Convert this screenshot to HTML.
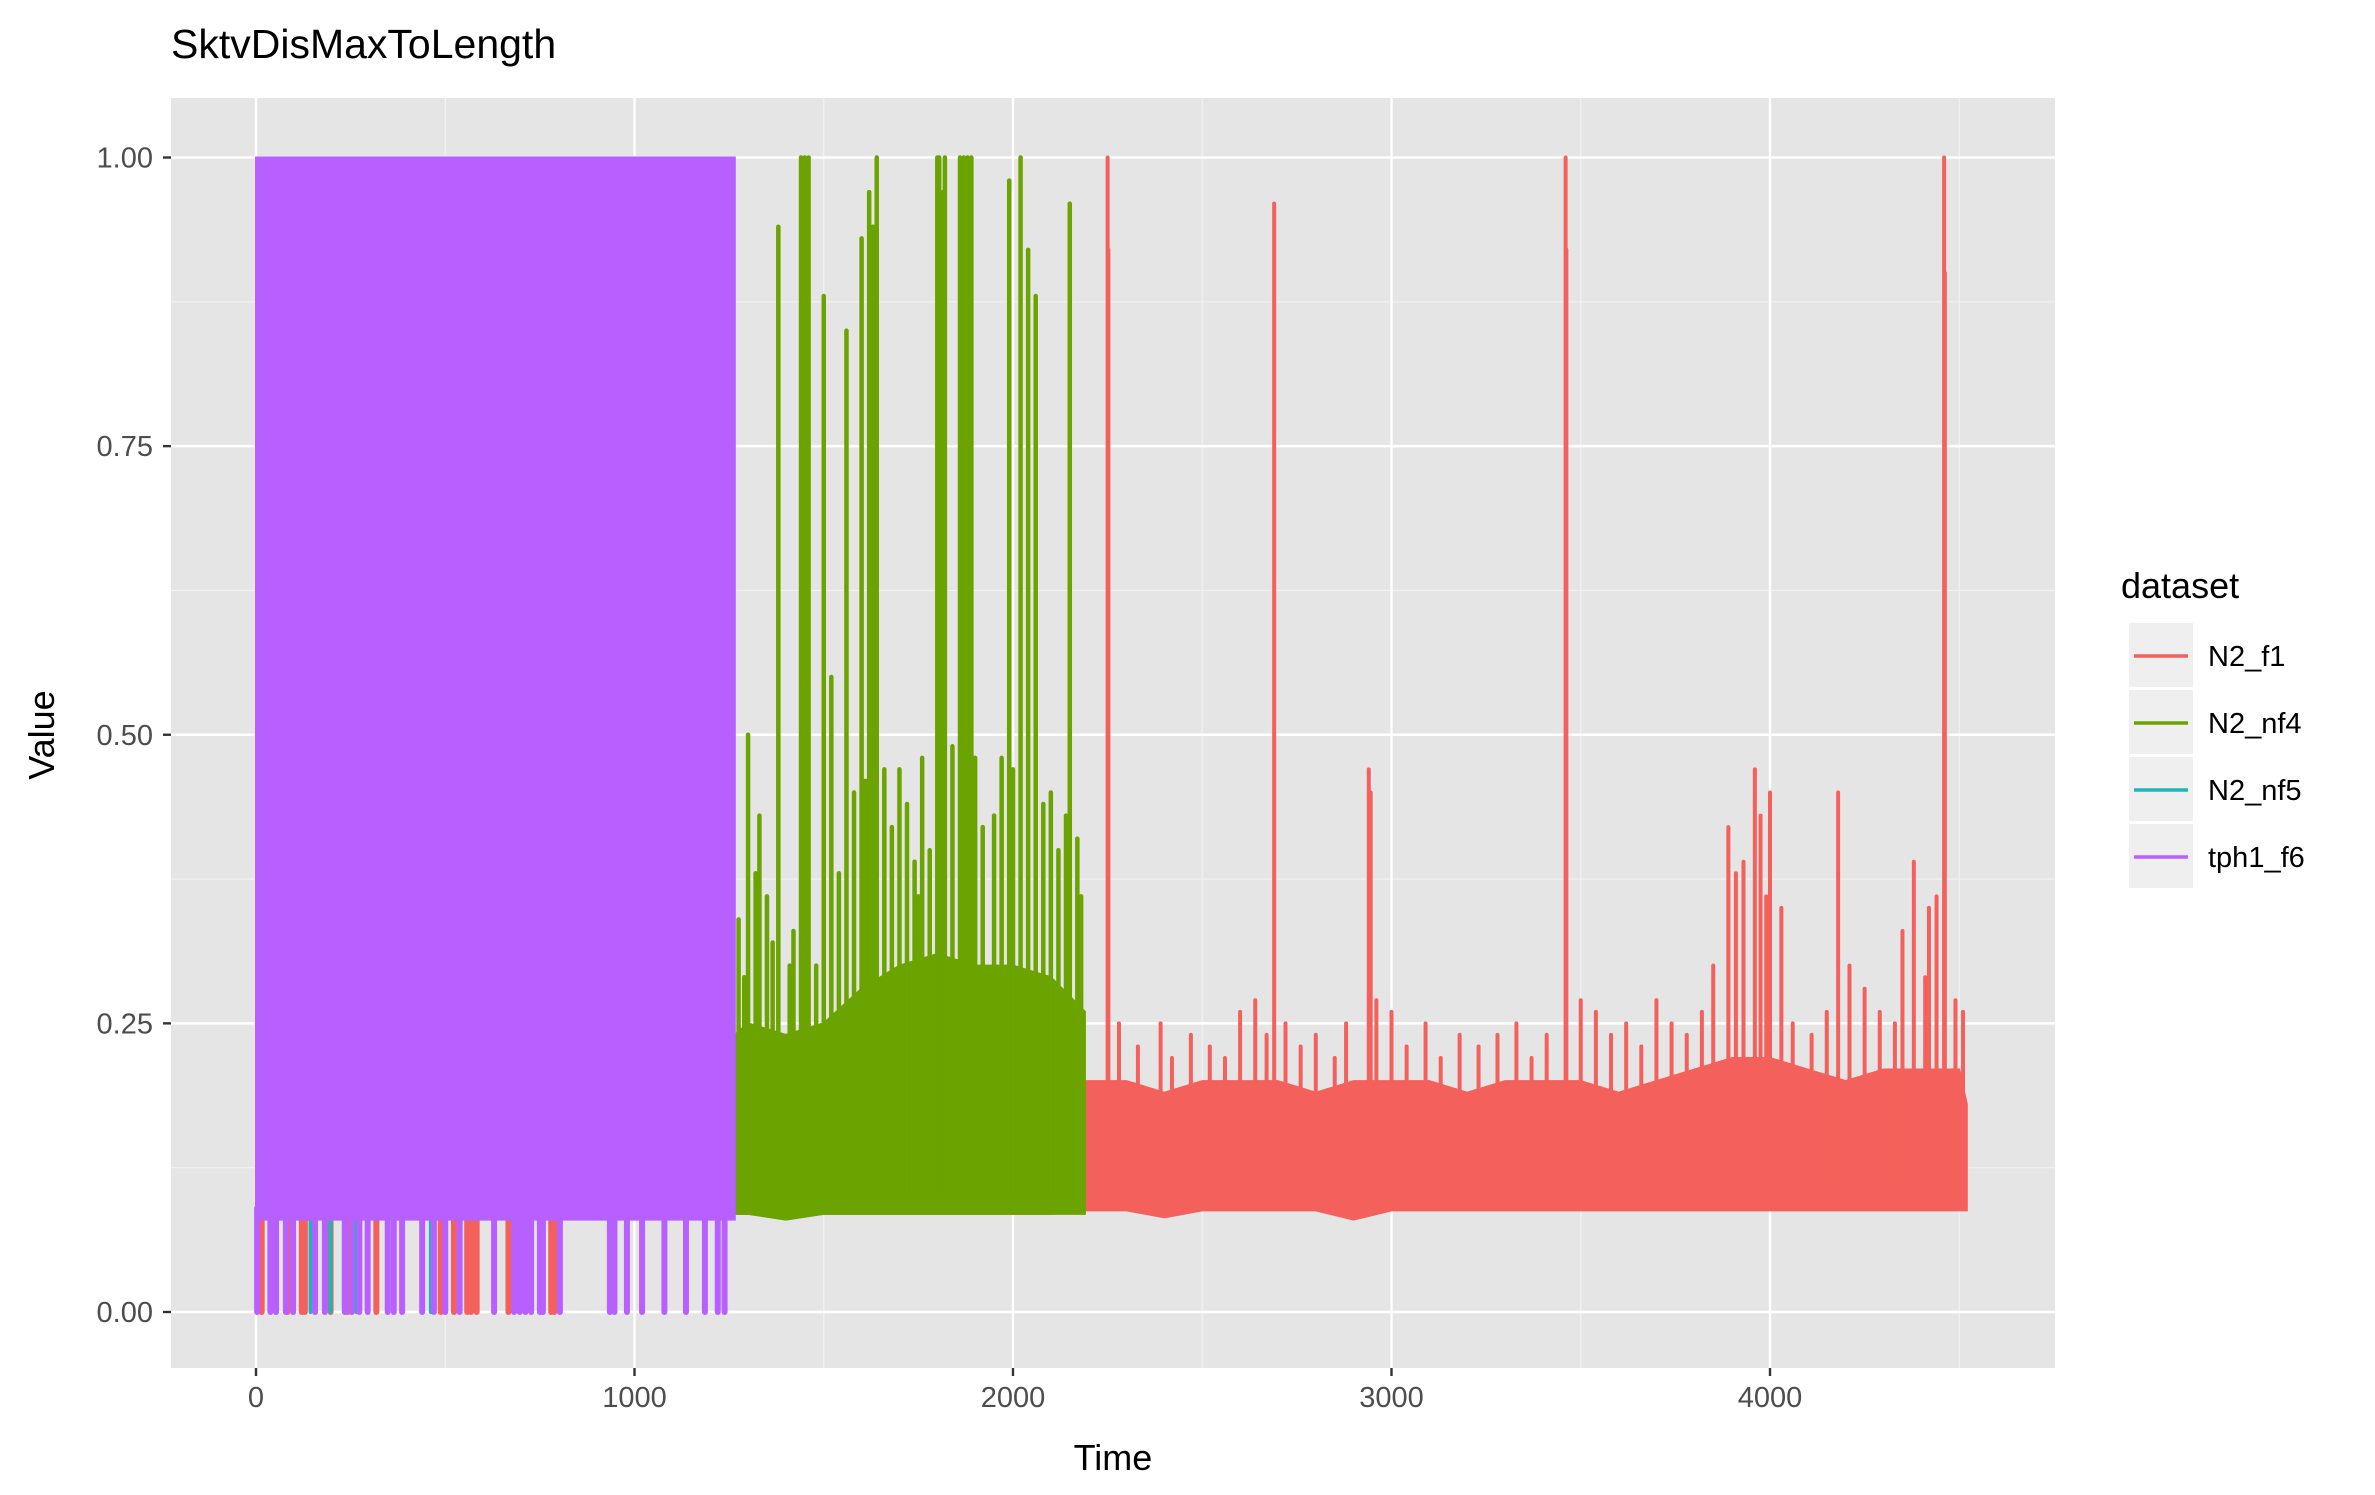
<!DOCTYPE html>
<html><head><meta charset="utf-8"><style>
body{margin:0;background:#fff;}
svg{display:block;font-family:"Liberation Sans",Arial,sans-serif;}
</style></head><body>
<svg id="chart" width="2375" height="1495" viewBox="0 0 2375 1495">
<rect width="2375" height="1495" fill="#fff"/>
<text x="171" y="58" font-size="41" fill="#000">SktvDisMaxToLength</text>
<rect x="171" y="98" width="1884" height="1270" fill="#e5e5e5"/>
<g id="grid"></g>
<g id="marks"></g>
<g id="axes"></g>
<text x="1113" y="1470" font-size="36" text-anchor="middle" fill="#000">Time</text>
<text transform="translate(54,735) rotate(-90)" font-size="36" text-anchor="middle" fill="#000">Value</text>
<g>
<text x="2121" y="598" font-size="36" fill="#000">dataset</text>
<g id="legend"></g>
</g>
</svg>
<script>
const seriesNames=["N2_f1","N2_nf4","N2_nf5","tph1_f6"];
const seriesColors=["#F4605B","#6BA300","#1DB5BA","#B760FF"];
const xTicks=[0,1000,2000,3000,4000];
const xMinor=[500,1500,2500,3500,4500];
const yTicks=[0,0.25,0.5,0.75,1.0];
const yTickLabels=["0.00","0.25","0.50","0.75","1.00"];
const yMinor=[0.125,0.375,0.625,0.875];
// envelopes
const f1BinT=[1265,1400,1500,1600,1700,1800,1900,2000,2100,2190,2300,2400,2500,2600,2700,2800,2900,3000,3100,3200,3300,3400,3500,3600,3700,3800,3900,4000,4100,4200,4300,4400,4500,4520];
const f1Hi=[0.24,0.24,0.25,0.26,0.26,0.25,0.24,0.25,0.24,0.2,0.2,0.19,0.2,0.2,0.2,0.19,0.2,0.2,0.2,0.19,0.2,0.2,0.2,0.19,0.2,0.21,0.22,0.22,0.21,0.2,0.21,0.21,0.21,0.18];
const f1Lo=[0.085,0.085,0.085,0.085,0.085,0.085,0.085,0.085,0.085,0.088,0.088,0.082,0.088,0.088,0.088,0.088,0.08,0.088,0.088,0.088,0.088,0.088,0.088,0.088,0.088,0.088,0.088,0.088,0.088,0.088,0.088,0.088,0.088,0.088];
const nf4BinT=[1265,1300,1400,1500,1600,1700,1800,1900,2000,2100,2190];
const nf4Hi=[0.24,0.25,0.24,0.25,0.28,0.3,0.31,0.3,0.3,0.29,0.26];
const nf4Lo=[0.085,0.085,0.08,0.085,0.085,0.085,0.085,0.085,0.085,0.085,0.085];
const f6BinT=[0,1265];
const f6Hi=[1.0,1.0];
const f6Lo=[0.08,0.08];
// spikes
const f1SpikeT=[2250,2252,2690,2940,2945,3460,3462,3890,3930,3960,3975,4000,4030,4180,4380,4420,4460,4462,4490,2280,2330,2390,2420,2470,2520,2560,2600,2640,2670,2720,2760,2800,2850,2880,2960,3000,3040,3090,3130,3180,3230,3280,3330,3370,3410,3500,3540,3580,3620,3660,3700,3740,3780,3820,3850,3910,3990,4060,4110,4150,4210,4250,4290,4330,4350,4410,4440,4510];
const f1SpikeV=[1.0,0.92,0.96,0.47,0.45,1.0,0.92,0.42,0.39,0.47,0.43,0.45,0.35,0.45,0.39,0.35,1.0,0.9,0.27,0.25,0.23,0.25,0.22,0.24,0.23,0.22,0.26,0.27,0.24,0.25,0.23,0.24,0.22,0.25,0.27,0.26,0.23,0.25,0.22,0.24,0.23,0.24,0.25,0.22,0.24,0.27,0.26,0.24,0.25,0.23,0.27,0.25,0.24,0.26,0.3,0.38,0.36,0.25,0.24,0.26,0.3,0.28,0.26,0.25,0.33,0.29,0.36,0.26];
const nf4SpikeT=[1300,1330,1380,1440,1450,1460,1500,1520,1560,1600,1620,1630,1640,1700,1760,1800,1805,1815,1820,1860,1870,1880,1890,1990,2020,2040,2060,2150,1275,1290,1320,1350,1365,1410,1420,1480,1540,1580,1610,1660,1680,1720,1740,1750,1780,1840,1900,1920,1950,1970,2000,2080,2100,2120,2140,2170,2180];
const nf4SpikeV=[0.50,0.43,0.94,1.0,1.0,1.0,0.88,0.55,0.85,0.93,0.97,0.94,1.0,0.47,0.48,1.0,1.0,0.97,1.0,1.0,1.0,1.0,1.0,0.98,1.0,0.92,0.88,0.96,0.34,0.29,0.38,0.36,0.32,0.30,0.33,0.30,0.38,0.45,0.46,0.47,0.42,0.44,0.39,0.36,0.40,0.49,0.48,0.42,0.43,0.48,0.47,0.44,0.45,0.40,0.43,0.41,0.36];
const f6DropT=[3,38,53,79,98,156,182,235,253,273,295,348,364,386,439,470,500,538,629,682,697,712,727,750,758,803,935,947,980,1020,1079,1136,1186,1220,1238];
const f1DropT=[15,83,121,129,197,242,318,488,523,558,568,583,667,780,788];
const nf5DropT=[144,197,232,265,462];

const NS="http://www.w3.org/2000/svg";
const X=t=>256+t*0.3785;
const Y=v=>1312-v*1154.5;
function mk(tag,attrs,parent){const e=document.createElementNS(NS,tag);for(const k in attrs)e.setAttribute(k,attrs[k]);parent.appendChild(e);return e;}
const grid=document.getElementById('grid'),marks=document.getElementById('marks'),axes=document.getElementById('axes'),legend=document.getElementById('legend');
yMinor.forEach(v=>{const l=mk('line',{x1:171,x2:2055,y1:Y(v),y2:Y(v),stroke:'#f2f2f2','stroke-width':1.2},grid);

});
xMinor.forEach(t=>{const l=mk('line',{x1:X(t),x2:X(t),y1:98,y2:1368,stroke:'#f2f2f2','stroke-width':1.2},grid);

});
yTicks.forEach((v,i)=>{const l=mk('line',{x1:171,x2:2055,y1:Y(v),y2:Y(v),stroke:'#fff','stroke-width':2.4},grid);


const tk=mk('line',{x1:163,x2:171,y1:Y(v),y2:Y(v),stroke:'#333','stroke-width':2.4},axes);


const tx=mk('text',{x:153,y:Y(v)+10,'font-size':29,'text-anchor':'end',fill:'#4d4d4d'},axes);tx.textContent=yTickLabels[i];

});
xTicks.forEach(t=>{const l=mk('line',{x1:X(t),x2:X(t),y1:98,y2:1368,stroke:'#fff','stroke-width':2.4},grid);


const tk=mk('line',{x1:X(t),x2:X(t),y1:1368,y2:1376,stroke:'#333','stroke-width':2.4},axes);


const tx=mk('text',{x:X(t),y:1407,'font-size':29,'text-anchor':'middle',fill:'#4d4d4d'},axes);tx.textContent=String(t);

});
function envelope(T,H,L,color,name){
  let pts=T.map((t,i)=>X(t)+','+Y(H[i]));
  for(let i=T.length-1;i>=0;i--)pts.push(X(T[i])+','+Y(L[i]));
  const p=mk('polygon',{points:pts.join(' '),fill:color,stroke:color,'stroke-width':2},marks);
  
  
}
function spikes(T,V,base,color,name,w){
  T.forEach((t,i)=>{const l=mk('line',{x1:X(t),x2:X(t),y1:Y(base),y2:Y(V[i]),stroke:color,'stroke-width':w,'stroke-linecap':'round'},marks);
  
  });
}
spikes(f1DropT,f1DropT.map(()=>0),0.09,seriesColors[0],'n2-f1-drop',6);
envelope(f1BinT,f1Hi,f1Lo,seriesColors[0],'n2-f1-series');
spikes(f1SpikeT,f1SpikeV,0.1,seriesColors[0],'n2-f1-spike',4);
envelope(nf4BinT,nf4Hi,nf4Lo,seriesColors[1],'n2-nf4-series');
spikes(nf4SpikeT,nf4SpikeV,0.1,seriesColors[1],'n2-nf4-spike',4.5);
spikes(nf5DropT,nf5DropT.map(()=>0),0.09,seriesColors[2],'n2-nf5-drop',4);
envelope(f6BinT,f6Hi,f6Lo,seriesColors[3],'tph1-f6-series');
spikes(f6DropT,f6DropT.map(()=>0),0.09,seriesColors[3],'tph1-f6-drop',6);
seriesNames.forEach((n,i)=>{const y=623+i*67;
const g=mk('g',{},legend);


mk('rect',{x:2129,y:y,width:64,height:64,fill:'#efefef'},g);
mk('line',{x1:2134,x2:2188,y1:y+33,y2:y+33,stroke:seriesColors[i],'stroke-width':3.5},g);
const t=mk('text',{x:2208,y:y+43,'font-size':29,fill:'#000'},g);t.textContent=n;});
</script>
</body></html>
